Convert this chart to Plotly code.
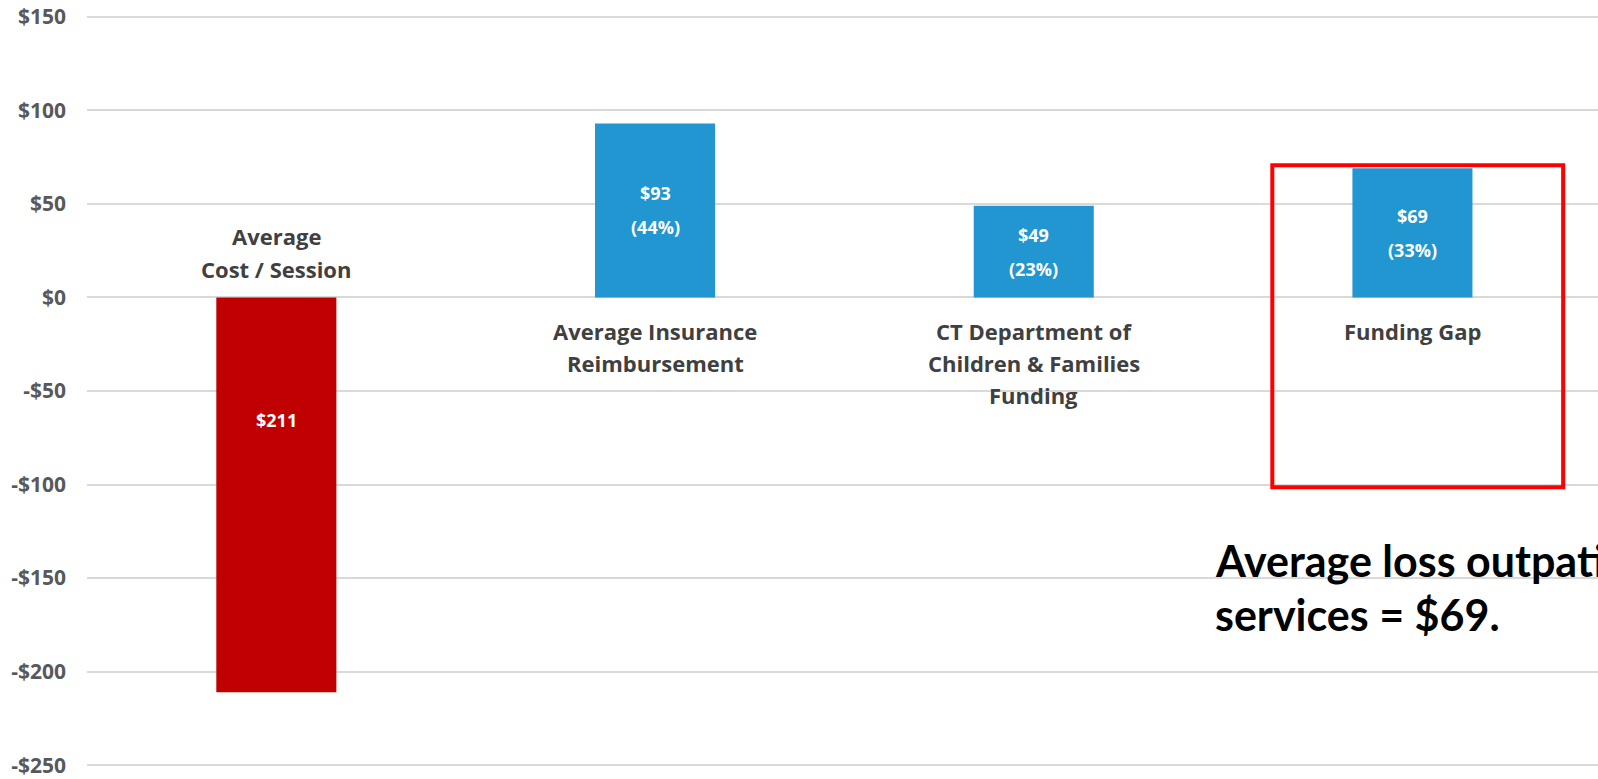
import plotly.graph_objects as go

categories = ["Average Cost / Session", "Average Insurance Reimbursement",
              "CT Department of Children & Families Funding", "Funding Gap"]
values = [-211, 93, 49, 69]
shares = [None, 44, 23, 33]
label_lines = [["Average", "Cost / Session"],
               ["Average Insurance", "Reimbursement"],
               ["CT Department of", "Children & Families", "Funding"],
               ["Funding Gap"]]
tick_vals = [150, 100, 50, 0, -50, -100, -150, -200, -250]
tick_text = ["$150", "$100", "$50", "$0", "-$50", "-$100", "-$150", "-$200", "-$250"]
note_lines = ["Average loss outpatient", "services = $69."]

RED = "#C00000"
BLUE = "#2196D0"
FONT = "Open Sans"

colors = [RED if v < 0 else BLUE for v in values]

fig = go.Figure()
fig.add_trace(go.Bar(x=categories, y=values, marker=dict(color=colors, line=dict(width=0)),
                     width=0.317, hoverinfo="skip"))

annotations = []
# value labels inside bars
for c, v, s in zip(categories, values, shares):
    lines = [f"${abs(v)}"] + ([f"({s}%)"] if s is not None else [])
    yc = v * 0.31 if v < 0 else v / 2
    n = len(lines)
    for i, t in enumerate(lines):
        annotations.append(dict(x=c, y=yc, text=t, showarrow=False, xanchor="center", yanchor="middle",
                                yshift=(n - 1) * 17 - i * 34,
                                font=dict(family=FONT, size=18, color="white", weight="bold")))
# category labels
for c, v, lines in zip(categories, values, label_lines):
    n = len(lines)
    for i, t in enumerate(lines):
        if v < 0:
            ys = 28 + (n - 1 - i) * 33
        else:
            ys = -34 - i * 32
        annotations.append(dict(x=c, y=0, text=t, showarrow=False, xanchor="center", yanchor="middle",
                                yshift=ys, font=dict(family=FONT, size=22, color="#404040", weight="bold")))
# note text
for i, t in enumerate(note_lines):
    annotations.append(dict(xref="paper", yref="paper", x=(1213 - 87) / 1511, y=0, text=t,
                            showarrow=False, xanchor="left", yanchor="middle",
                            yshift=(779 - 10 - 560) - i * 54,
                            font=dict(family="Lato", size=43, color="black", weight="bold")))

fig.update_layout(
    width=1598, height=779,
    margin=dict(l=87, r=0, t=13, b=10),
    plot_bgcolor="white", paper_bgcolor="white",
    showlegend=False,
    annotations=annotations,
    shapes=[dict(type="rect", xref="x", yref="y", x0=2.630, x1=3.398, y0=-101.4, y1=70.7,
                 line=dict(color="#FF0000", width=4), fillcolor="rgba(0,0,0,0)")],
    xaxis=dict(range=[-0.5, 3.49], showticklabels=False, showgrid=False, zeroline=False,
               showline=False, ticks=""),
    yaxis=dict(range=[-252, 152], tickvals=tick_vals, ticktext=tick_text, showgrid=True,
               gridcolor="#D9D9D9", gridwidth=1.5, zeroline=False, showline=False, ticks="",
               ticklabelstandoff=20,
               tickfont=dict(family=FONT, size=21, color="#595959", weight="bold")),
    font=dict(family=FONT),
)

fig.write_html("out.html", config={"displayModeBar": False},
               post_script="document.body.style.margin='0';document.body.style.overflow='hidden';")
